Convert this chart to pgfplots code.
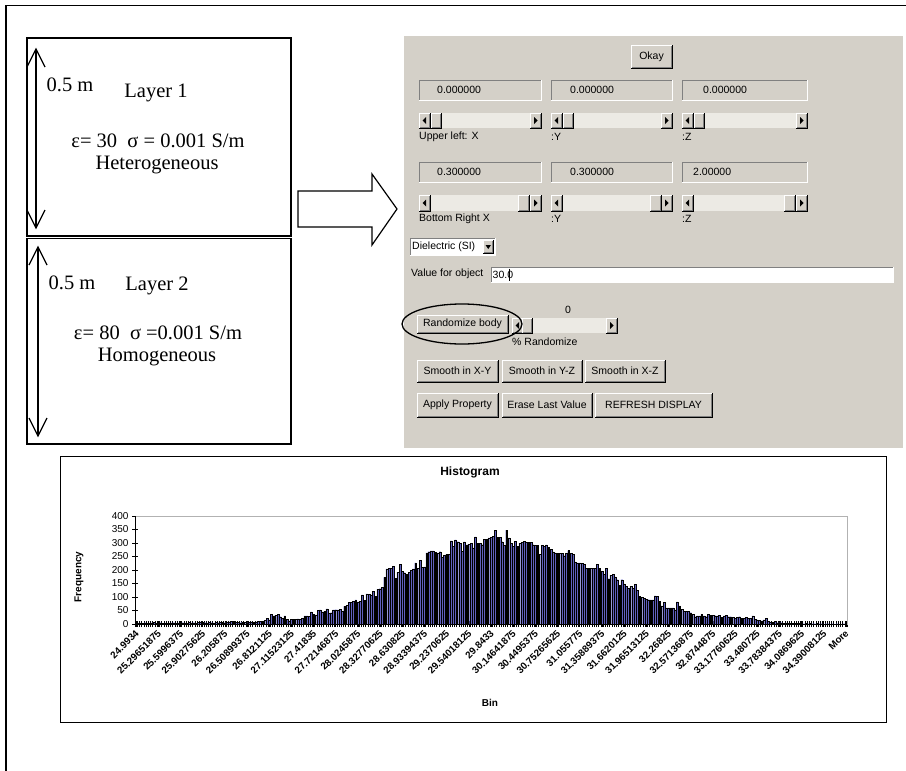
\documentclass[border=0pt]{standalone}
\usepackage{pgfplots}
\pgfplotsset{compat=1.18}
\usepackage{fontspec}
\setmainfont{Liberation Sans}
\newfontfamily\tnr{Liberation Serif}
\definecolor{guibg}{RGB}{212,208,200}
\definecolor{guidark}{RGB}{128,128,128}
\definecolor{track}{RGB}{236,234,228}
\definecolor{barfill}{RGB}{96,96,190}
\newcommand{\guifont}{\fontsize{10.5}{12}\selectfont}
\newcommand{\layfont}{\tnr\fontsize{20.5}{24}\selectfont}
\newcommand{\raisedbox}[4]{%
  \fill[guibg] (#1,#2) rectangle (#3,#4);
  \draw[white,line width=1pt] (#1,#4) -- (#1,#2) -- (#3,#2);
  \draw[guidark,line width=0.8pt] ({#1+1},{#4-1}) -- ({#3-1},{#4-1}) -- ({#3-1},{#2+1});
  \draw[black,line width=0.8pt] (#1,#4) -- (#3,#4) -- (#3,#2);
}
\newcommand{\sunkenbox}[5]{%
  \fill[#5] (#1,#2) rectangle (#3,#4);
  \draw[guidark,line width=1pt] (#1,#4) -- (#1,#2) -- (#3,#2);
  \draw[white,line width=1pt] (#1,#4) -- (#3,#4) -- (#3,#2);
}
\newcommand{\scrollbar}[6]{%
  \fill[track] (#1,#2) rectangle (#3,#4);
  \raisedbox{#1}{#2}{#1+11}{#4}
  \fill[black] ({#1+3.5},{(#2+#4)/2}) -- ({#1+7},{(#2+#4)/2-3.5}) -- ({#1+7},{(#2+#4)/2+3.5}) -- cycle;
  \raisedbox{#3-11}{#2}{#3}{#4}
  \fill[black] ({#3-3.5},{(#2+#4)/2}) -- ({#3-7},{(#2+#4)/2-3.5}) -- ({#3-7},{(#2+#4)/2+3.5}) -- cycle;
  \raisedbox{#5}{#2}{#6}{#4}
}
\begin{document}
\begin{tikzpicture}
\useasboundingbox (0pt,0pt) rectangle (906pt,-771pt);
\fill[white] (0pt,0pt) rectangle (906pt,-771pt);
\begin{scope}[x=1pt,y=-1pt]
  % outer frame
  \draw[black,line width=1.5pt] (6,771) -- (6,5.5) -- (906,5.5);
  % layer boxes
  \draw[black,line width=1.4pt] (27,38) rectangle (291,236);
  \draw[black,line width=1.4pt] (27,238.5) rectangle (291,444);
  % double arrows
  \draw[black,line width=1.3pt] (36,49) -- (36,228);
  \draw[black,line width=1.3pt] (27,67) -- (36,49) -- (45,67);
  \draw[black,line width=1.3pt] (27,210) -- (36,228) -- (45,210);
  \draw[black,line width=1.3pt] (38,247) -- (38,436);
  \draw[black,line width=1.3pt] (29,265) -- (38,247) -- (47,265);
  \draw[black,line width=1.3pt] (29,418) -- (38,436) -- (47,418);
  \node[font=\layfont] at (70,85) {0.5 m};
  \node[font=\layfont] at (156,93) {Layer 1};
  \node[font=\layfont] at (158,141) {ε= 30\ \ σ = 0.001 S/m};
  \node[font=\layfont] at (157,165) {Heterogeneous};
  \node[font=\layfont] at (72,283) {0.5 m};
  \node[font=\layfont] at (157,286) {Layer 2};
  \node[font=\layfont] at (158,333) {ε= 80\ \ σ =0.001 S/m};
  \node[font=\layfont] at (157,357) {Homogeneous};
  % big hollow arrow
  \draw[black,line width=1.2pt] (298,191) -- (372,191) -- (372,174) -- (397,209) -- (372,245) -- (372,227) -- (298,227) -- cycle;
  % GUI panel
  \fill[guibg] (404,36) rectangle (903,448);
  \raisedbox{631}{45}{672}{68}
  \node[font=\guifont] at (651.5,56.5) {Okay};
  \sunkenbox{419}{80}{541}{100}{guibg}
  \sunkenbox{551}{80}{672}{100}{guibg}
  \sunkenbox{682}{80}{807}{100}{guibg}
  \node[font=\guifont,anchor=west,inner sep=0] at (437,90) {0.000000};
  \node[font=\guifont,anchor=west,inner sep=0] at (570,90) {0.000000};
  \node[font=\guifont,anchor=west,inner sep=0] at (703,90) {0.000000};
  \scrollbar{419}{113}{541}{128}{431}{441}
  \scrollbar{551}{113}{672}{128}{563}{573}
  \scrollbar{682}{113}{807}{128}{694}{704}
  \node[font=\guifont,anchor=west,inner sep=0] at (419,137) {Upper left: X};
  \node[font=\guifont,anchor=west,inner sep=0] at (551,137) {:Y};
  \node[font=\guifont,anchor=west,inner sep=0] at (682,137) {:Z};
  \sunkenbox{419}{162}{541}{182}{guibg}
  \sunkenbox{551}{162}{672}{182}{guibg}
  \sunkenbox{682}{162}{807}{182}{guibg}
  \node[font=\guifont,anchor=west,inner sep=0] at (437,172) {0.300000};
  \node[font=\guifont,anchor=west,inner sep=0] at (570,172) {0.300000};
  \node[font=\guifont,anchor=west,inner sep=0] at (693,172) {2.00000};
  \scrollbar{419}{195}{541}{211}{518}{529}
  \scrollbar{551}{195}{672}{211}{650}{661}
  \scrollbar{682}{195}{807}{211}{784}{795}
  \node[font=\guifont,anchor=west,inner sep=0] at (419,219) {Bottom Right X};
  \node[font=\guifont,anchor=west,inner sep=0] at (551,219) {:Y};
  \node[font=\guifont,anchor=west,inner sep=0] at (682,219) {:Z};
  % dropdown
  \sunkenbox{410}{238}{495}{255}{white}
  \raisedbox{483}{240}{493.5}{253.5}
  \fill[black] (485.5,245) -- (491,245) -- (488.25,249) -- cycle;
  \node[font=\guifont,anchor=west,inner sep=0] at (412,247) {Dielectric (SI)};
  % value for object
  \node[font=\guifont,anchor=west,inner sep=0] at (411,274) {Value for object};
  \sunkenbox{491}{267}{893}{282}{white}
  \node[font=\guifont,anchor=west,inner sep=0] at (492.5,274.5) {30.0};
  \draw[black,line width=0.6pt] (509,268.5) -- (509,280.5);
  % randomize
  \node[font=\guifont] at (568,310) {0};
  \raisedbox{417}{315}{508}{333}
  \node[font=\guifont] at (462.5,324) {Randomize body};
  \scrollbar{512}{318}{617}{333}{522}{532}
  \node[font=\guifont,anchor=west,inner sep=0] at (512,342) {\% Randomize};
  \draw[black,line width=1.3pt] (462,324) ellipse [x radius=60, y radius=20];
  % smooth buttons
  \raisedbox{417}{360}{498}{382}
  \node[font=\guifont] at (457.5,371) {Smooth in X-Y};
  \raisedbox{502}{360}{582}{382}
  \node[font=\guifont] at (542,371) {Smooth in Y-Z};
  \raisedbox{585}{360}{665}{382}
  \node[font=\guifont] at (625,371) {Smooth in X-Z};
  \raisedbox{417}{393}{498}{417}
  \node[font=\guifont] at (457.5,405) {Apply Property};
  \raisedbox{502}{393}{592}{417}
  \node[font=\guifont] at (547,405) {Erase Last Value};
  \raisedbox{595}{393}{712}{417}
  \node[font=\guifont] at (653.5,405) {REFRESH DISPLAY};
  % histogram chart area
  \draw[black,line width=1pt] (60,456) rectangle (886,722);
  \node[font=\fontsize{12}{14}\selectfont\bfseries] at (470,472) {Histogram};
  \node[font=\fontsize{10}{12}\selectfont\bfseries,rotate=90] at (79,577) {Frequency};
  \node[font=\fontsize{10}{12}\selectfont\bfseries] at (490,703) {Bin};
\end{scope}
\begin{axis}[
  at={(135pt,-624pt)}, anchor=south west,
  scale only axis, width=712pt, height=108pt,
  xmin=-0.5, xmax=320.5, ymin=0, ymax=400,
  enlargelimits=false,
  ytick={0,50,...,400},
  xtick={0,10,...,320},
  xticklabels={24.9934,25.29651875,25.5996375,25.90275625,26.205875,26.50899375,26.8121125,27.11523125,27.41835,27.72146875,28.0245875,28.32770625,28.630825,28.93394375,29.2370625,29.54018125,29.8433,30.14641875,30.4495375,30.75265625,31.055775,31.35889375,31.6620125,31.96513125,32.26825,32.57136875,32.8744875,33.17760625,33.480725,33.78384375,34.0869625,34.39008125,More},
  minor xtick={-0.5,0.5,...,320.5},
  tick align=center, tick pos=left,
  major tick length=6pt, minor tick length=6pt,
  tick style={black,line width=0.5pt},
  minor tick style={black,line width=0.5pt},
  axis line style={draw=gray!60,line width=0.8pt},
  xticklabel style={rotate=45,anchor=north east,font=\fontsize{9.8}{11}\selectfont\bfseries,inner sep=0.5pt,xshift=-2pt},
  yticklabel style={font=\fontsize{10}{12}\selectfont},
  /pgf/number format/assume math mode=true,
]
\addplot[ybar,bar width=1.8pt,fill=barfill,draw=black,line width=0.25pt] coordinates {
(0,3)(1,2)(2,4)(3,3)(4,5)(5,2)(6,3)(7,4)(8,6)(9,3)
(10,2)(11,5)(12,3)(13,4)(14,3)(15,2)(16,4)(17,5)(18,3)(19,4)
(20,3)(21,5)(22,4)(23,3)(24,6)(25,4)(26,5)(27,3)(28,7)(29,8)
(30,6)(31,5)(32,4)(33,6)(34,5)(35,4)(36,6)(37,5)(38,7)(39,6)
(40,5)(41,6)(42,8)(43,10)(44,9)(45,7)(46,6)(47,5)(48,7)(49,6)
(50,5)(51,6)(52,8)(53,7)(54,8)(55,9)(56,10)(57,9)(58,13)(59,20)
(60,15)(61,37)(62,30)(63,33)(64,37)(65,27)(66,21)(67,30)(68,17)(69,12)
(70,17)(71,18)(72,17)(73,19)(74,17)(75,20)(76,30)(77,30)(78,28)(79,45)
(80,36)(81,34)(82,50)(83,52)(84,45)(85,46)(86,56)(87,40)(88,42)(89,52)
(90,53)(91,52)(92,55)(93,47)(94,65)(95,70)(96,80)(97,80)(98,83)(99,89)
(100,82)(101,84)(102,108)(103,87)(104,112)(105,110)(106,108)(107,120)(108,102)(109,129)
(110,131)(111,135)(112,173)(113,204)(114,206)(115,207)(116,214)(117,169)(118,191)(119,222)
(120,195)(121,190)(122,185)(123,191)(124,200)(125,204)(126,226)(127,207)(128,237)(129,211)
(130,212)(131,263)(132,268)(133,271)(134,271)(135,266)(136,263)(137,268)(138,248)(139,255)
(140,258)(141,258)(142,308)(143,288)(144,312)(145,305)(146,300)(147,270)(148,304)(149,293)
(150,296)(151,300)(152,282)(153,323)(154,300)(155,298)(156,294)(157,313)(158,313)(159,319)
(160,322)(161,325)(162,348)(163,320)(164,320)(165,305)(166,291)(167,348)(168,319)(169,300)
(170,288)(171,307)(172,288)(173,300)(174,303)(175,307)(176,303)(177,303)(178,303)(179,294)
(180,292)(181,292)(182,257)(183,291)(184,288)(185,293)(186,285)(187,276)(188,267)(189,263)
(190,261)(191,261)(192,261)(193,253)(194,261)(195,272)(196,262)(197,257)(198,230)(199,226)
(200,226)(201,224)(202,222)(203,207)(204,206)(205,206)(206,206)(207,207)(208,220)(209,206)
(210,195)(211,183)(212,206)(213,168)(214,181)(215,183)(216,175)(217,164)(218,144)(219,164)
(220,149)(221,140)(222,132)(223,139)(224,132)(225,148)(226,125)(227,102)(228,99)(229,96)
(230,91)(231,90)(232,89)(233,89)(234,104)(235,102)(236,85)(237,67)(238,81)(239,60)
(240,60)(241,60)(242,60)(243,52)(244,82)(245,67)(246,55)(247,46)(248,46)(249,48)
(250,42)(251,35)(252,27)(253,30)(254,30)(255,36)(256,30)(257,27)(258,36)(259,32)
(260,32)(261,31)(262,30)(263,32)(264,25)(265,30)(266,32)(267,27)(268,27)(269,24)
(270,22)(271,24)(272,27)(273,20)(274,20)(275,24)(276,22)(277,22)(278,30)(279,17)
(280,15)(281,14)(282,12)(283,15)(284,21)(285,9)(286,7)(287,6)(288,10)(289,5)
(290,4)(291,5)(292,3)(293,4)(294,3)(295,2)(296,3)(297,2)(298,3)(299,2)
(300,2)(301,1)(302,2)(303,1)(304,2)(305,1)(306,1)(307,2)(308,1)(309,1)
(310,0)(311,1)(312,1)(313,0)(314,1)(315,0)(316,1)(317,0)(318,0)(319,1)(320,0)
};
\draw[black,line width=0.8pt] (rel axis cs:0,1) -- (rel axis cs:0,0) -- (rel axis cs:1,0);
\end{axis}
\end{tikzpicture}
\end{document}
